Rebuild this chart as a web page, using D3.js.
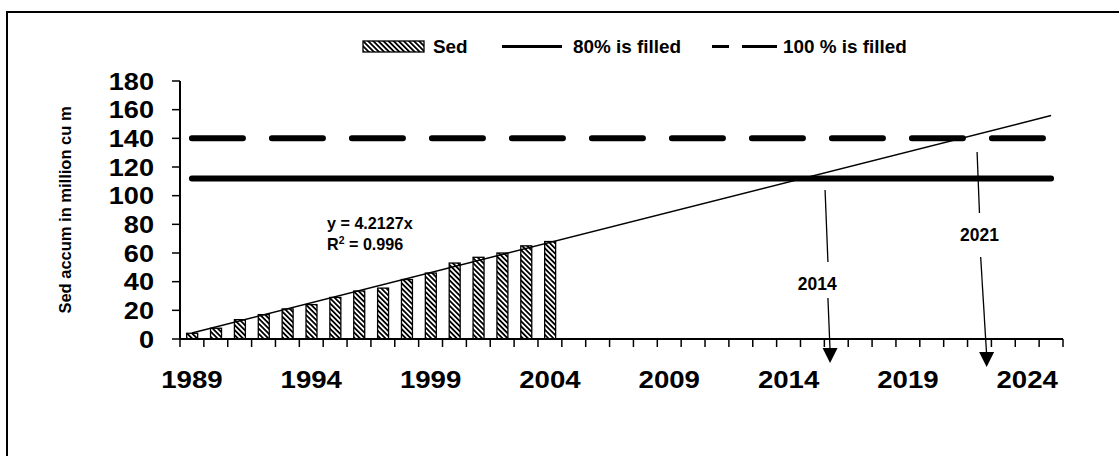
<!DOCTYPE html>
<html>
<head>
<meta charset="utf-8">
<script src="https://cdn.jsdelivr.net/npm/d3@7"></script>
<style>
  body { margin: 0; background: #fff; }
  text { font-family: "Liberation Sans", Arial, sans-serif; font-weight: bold; fill: #000; }
</style>
</head>
<body>
<div class="chart"></div>
<script>
// categories on the x axis (one band per year)
let years = d3.range(1989, 2026);
let yTicks = [0, 20, 40, 60, 80, 100, 120, 140, 160, 180];
let xLabelYears = [1989, 1994, 1999, 2004, 2009, 2014, 2019, 2024];

// measured sediment accumulation (million cu m)
let sedYears = [1989, 1990, 1991, 1992, 1993, 1994, 1995, 1996, 1997, 1998, 1999, 2000, 2001, 2002, 2003, 2004];
let sedValues = [4, 7.5, 13.5, 17, 21, 24, 29, 33.5, 35.5, 41.5, 46, 53, 57, 60, 65, 68];

// linear trend through origin, x = year index (1989 -> 1)
let trendSlope = 4.2127;
let trendR2 = 0.996;

// capacity levels
let fill80 = 112;
let fill100 = 140;

// call-outs: year label, line points in [year, value]
let callouts = [
    {label: '2014', top: [2015.53, 104], labelAt: [2015.2, 34], mid: [2015.65, 53.7], low: [2015.65, 28.6], tip: [2015.74, -16.7]},
    {label: '2021', top: [2021.9, 130.5], labelAt: [2022.0, 68.4], mid: [2022.0, 87.9], low: [2022.05, 57.2], tip: [2022.3, -19.5]}
];

let _width = 1119, _height = 456;
let svg = d3.select('.chart')
    .append('svg')
    .attr('width', _width)
    .attr('height', _height);

let defs = svg.append('defs');
let pat = defs.append('pattern')
    .attr('id', 'hatch')
    .attr('patternUnits', 'userSpaceOnUse')
    .attr('width', 3.6)
    .attr('height', 3.6)
    .attr('patternTransform', 'rotate(-45)');
pat.append('rect').attr('width', 3.6).attr('height', 3.6).attr('fill', '#fff');
pat.append('rect').attr('width', 1.8).attr('height', 3.6).attr('fill', '#000');

// outer frame (runs off the right and bottom)
svg.append('rect')
    .attr('x', 7).attr('y', 12)
    .attr('width', 1300).attr('height', 600)
    .attr('fill', 'none')
    .attr('stroke', '#000')
    .attr('stroke-width', 2);

let x = d3.scaleBand().domain(years).range([180, 1063]);
let bw = x.bandwidth();
// continuous year -> pixel (year centre)
let xc = yr => x.range()[0] + (yr - years[0] + 0.5) * bw;
let xi = i => xc(years[0] + i - 1);
let y = d3.scaleLinear().domain([0, 180]).range([339, 81]);

function label(g, px, py, str, size, sx, anchor) {
    return g.append('text')
        .attr('transform', `translate(${px},${py}) scale(${sx},1)`)
        .attr('text-anchor', anchor || 'start')
        .style('font-size', size + 'px')
        .text(str);
}

// bars
svg.append('g')
    .selectAll('rect')
    .data(sedValues)
    .enter().append('rect')
    .attr('x', (d, i) => x(sedYears[i]) + bw * 0.28)
    .attr('width', bw * 0.46)
    .attr('y', d => y(d))
    .attr('height', d => y(0) - y(d))
    .attr('fill', 'url(#hatch)')
    .attr('stroke', '#000')
    .attr('stroke-width', 1.3);

// capacity lines
let lineX0 = xc(years[0]), lineX1 = xc(years[years.length - 1]);
svg.append('line')
    .attr('x1', lineX0).attr('x2', lineX1)
    .attr('y1', y(fill80)).attr('y2', y(fill80))
    .attr('stroke', '#000').attr('stroke-width', 6)
    .attr('stroke-linecap', 'round');
svg.append('line')
    .attr('x1', lineX0).attr('x2', lineX1)
    .attr('y1', y(fill100)).attr('y2', y(fill100))
    .attr('stroke', '#000').attr('stroke-width', 6)
    .attr('stroke-linecap', 'round')
    .attr('stroke-dasharray', '51,29');

// trend line
svg.append('line')
    .attr('x1', xi(1)).attr('y1', y(trendSlope * 1))
    .attr('x2', xi(years.length)).attr('y2', y(trendSlope * years.length))
    .attr('stroke', '#000').attr('stroke-width', 1.5);

// y axis
let yAxis = svg.append('g');
yAxis.append('line')
    .attr('x1', 180).attr('x2', 180)
    .attr('y1', y(0)).attr('y2', y(180))
    .attr('stroke', '#000').attr('stroke-width', 2);
yTicks.forEach(t => {
    yAxis.append('line')
        .attr('x1', 172).attr('x2', 180)
        .attr('y1', y(t)).attr('y2', y(t))
        .attr('stroke', '#000').attr('stroke-width', 1.5);
    label(yAxis, 154, y(t) + 8.5, t, 23, 1.18, 'end');
});

// x axis
let xAxis = svg.append('g');
xAxis.append('line')
    .attr('x1', 180).attr('x2', 1063)
    .attr('y1', y(0)).attr('y2', y(0))
    .attr('stroke', '#000').attr('stroke-width', 2);
years.concat([years[years.length - 1] + 1]).forEach((yr, i) => {
    let px = 180 + i * bw;
    xAxis.append('line')
        .attr('x1', px).attr('x2', px)
        .attr('y1', y(0)).attr('y2', y(0) + 8)
        .attr('stroke', '#000').attr('stroke-width', 1.5);
});
xLabelYears.forEach(yr => {
    label(xAxis, x(yr) + bw / 2, 388, yr, 23, 1.2, 'middle');
});

// axis title
svg.append('text')
    .attr('transform', 'translate(71,210) rotate(-90)')
    .attr('text-anchor', 'middle')
    .style('font-size', '16.5px')
    .text('Sed accum in million cu m');

// equation
label(svg, 327, 229, 'y = 4.2127x', 17, 0.95);
let r2 = label(svg, 327, 250, 'R', 17, 0.95);
r2.append('tspan').attr('dy', -6).style('font-size', '11px').text('2');
r2.append('tspan').attr('dy', 6).text(' = ' + trendR2);

// call-outs
callouts.forEach(c => {
    let g = svg.append('g');
    g.append('line')
        .attr('x1', xc(c.top[0])).attr('y1', y(c.top[1]))
        .attr('x2', xc(c.mid[0])).attr('y2', y(c.mid[1]))
        .attr('stroke', '#000').attr('stroke-width', 1.3);
    let tx = xc(c.tip[0]), ty = y(c.tip[1]);
    g.append('line')
        .attr('x1', xc(c.low[0])).attr('y1', y(c.low[1]))
        .attr('x2', tx).attr('y2', ty - 12)
        .attr('stroke', '#000').attr('stroke-width', 1.3);
    g.append('path')
        .attr('d', `M${tx},${ty} L${tx - 7.5},${ty - 15} L${tx + 7.5},${ty - 15} Z`)
        .attr('fill', '#000');
    label(g, xc(c.labelAt[0]), y(c.labelAt[1]), c.label, 19, 0.92, 'middle');
});

// legend
let lg = svg.append('g');
lg.append('rect')
    .attr('x', 363).attr('y', 41)
    .attr('width', 61).attr('height', 11)
    .attr('fill', 'url(#hatch)')
    .attr('stroke', '#000').attr('stroke-width', 1.3);
label(lg, 433, 52.5, 'Sed', 18, 1.05);
lg.append('line')
    .attr('x1', 502).attr('x2', 562)
    .attr('y1', 46.5).attr('y2', 46.5)
    .attr('stroke', '#000').attr('stroke-width', 3);
label(lg, 573, 52.5, '80% is filled', 18, 1.05);
lg.append('line')
    .attr('x1', 712).attr('x2', 777)
    .attr('y1', 46.5).attr('y2', 46.5)
    .attr('stroke', '#000').attr('stroke-width', 3)
    .attr('stroke-dasharray', '17,13,40');
label(lg, 783, 52.5, '100 % is filled', 18, 1.05);
</script>
</body>
</html>
